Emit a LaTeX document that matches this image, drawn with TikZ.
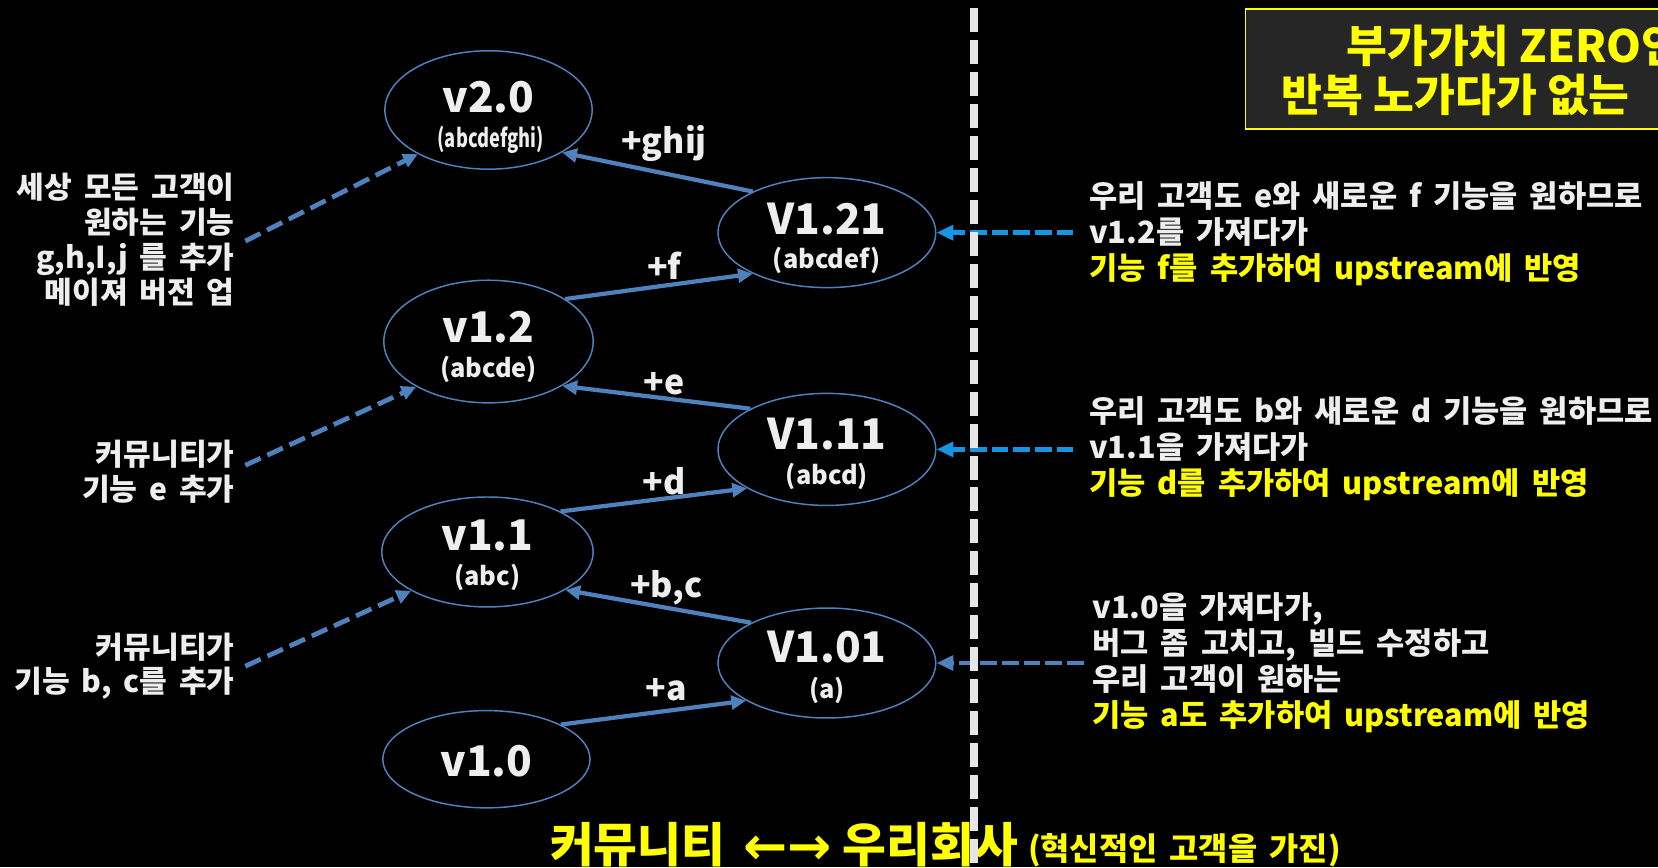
\documentclass[tikz,border=0pt]{standalone}
\usepackage{graphicx}
\usepackage{fontspec}
\setmainfont{Noto Sans CJK KR}
\newfontfamily\krw{Noto Sans CJK KR}[WordSpace=1.7]
\newfontfamily\arw{DejaVu Sans}[BoldFont={DejaVu Sans Bold}]
\usetikzlibrary{shapes.geometric,arrows.meta,calc}
\definecolor{sblue}{RGB}{79,129,189}
\definecolor{bblue}{RGB}{20,150,228}
\definecolor{ylw}{RGB}{255,255,0}
\definecolor{wht}{RGB}{238,238,238}
\definecolor{vlinec}{RGB}{230,230,230}
\definecolor{boxfill}{RGB}{38,38,38}
\begin{document}
\begin{tikzpicture}[x=1pt,y=-1pt,
  ver/.style={ellipse, draw=sblue, line width=1.4pt, inner sep=0pt},
  big/.style={font=\bfseries\fontsize{40}{44}\selectfont, text=wht, inner sep=0pt},
  sub/.style={font=\bfseries\fontsize{24}{28}\selectfont, text=wht, inner sep=0pt},
  plus/.style={font=\bfseries\fontsize{32}{36}\selectfont, text=wht, inner sep=0pt},
  flow/.style={draw=sblue, line width=4pt, -{Triangle[length=14pt,width=13pt]}},
  ldash/.style={draw=sblue, line width=4.5pt, dash pattern=on 16pt off 7pt, -{Triangle[length=14pt,width=13pt]}},
  rdash/.style={line width=4.7pt, dash pattern=on 15.8pt off 4.7pt, -{Triangle[length=16pt,width=14pt]}},
  note/.style={font=\krw\bfseries\fontsize{28.5}{33}\selectfont, text=wht, align=right, inner sep=0pt},
  rnote/.style={font=\krw\bfseries\fontsize{29}{34}\selectfont, text=wht, align=left, inner sep=0pt},
  ttl/.style={font=\bfseries\fontsize{42}{46}\selectfont, text=ylw, inner sep=0pt, anchor=west},
  captxt/.style={font=\krw\bfseries\fontsize{45}{48}\selectfont, text=ylw, inner sep=0pt, anchor=base west},
  capsm/.style={font=\krw\bfseries\fontsize{30}{32}\selectfont, text=ylw, inner sep=0pt, anchor=base west},
  vdash/.style={draw=vlinec, line width=7.5pt, dash pattern=on 22.7pt off 7.5pt},
]
\fill[black] (0,0) rectangle (1568,820);
\useasboundingbox (0,0) rectangle (1568,820);

% version ellipses
\node[ver, minimum width=196pt, minimum height=112pt] (v20) at (462,104) {};
\node[ver, minimum width=206pt, minimum height=104pt] (V121) at (782,220) {};
\node[ver, minimum width=198pt, minimum height=116pt] (v12) at (462,323) {};
\node[ver, minimum width=206pt, minimum height=106pt] (V111) at (782,425) {};
\node[ver, minimum width=200pt, minimum height=104pt] (v11) at (461,522) {};
\node[ver, minimum width=206pt, minimum height=104pt] (V101) at (782,627) {};
\node[ver, minimum width=196pt, minimum height=92pt] (v10) at (460,718) {};

% ellipse texts
\node[big] (v20a) at (462,92) {v2.0};
\node[sub] (v20b) at (464,132) {\scalebox{0.72}[1]{(abcdefghi)}};
\node[big] (V121a) at (782,207) {V1.21};
\node[sub] (V121b) at (782,246) {(abcdef)};
\node[big] (v12a) at (462,309) {v1.2};
\node[sub] (v12b) at (462,349) {(abcde)};
\node[big] (V111a) at (782,410) {V1.11};
\node[sub] (V111b) at (782,451) {(abcd)};
\node[big] (v11a) at (461,506) {v1.1};
\node[sub] (v11b) at (461,546) {(abc)};
\node[big] (V101a) at (782,612) {V1.01};
\node[sub] (V101b) at (782,653) {(a)};
\node[big] (v10a) at (460,720) {v1.0};

% flow arrows
\draw[flow] (v10.25) -- (V101.205);
\draw[flow] (V101.152) -- (v11.334);
\draw[flow] (v11.29) -- (V111.206);
\draw[flow] (V111.152) -- (v12.329);
\draw[flow] (v12.29) -- (V121.209);
\draw[flow] (V121.151) -- (v20.330);

% plus labels
\node[plus] (pa) at (630,652) {+a};
\node[plus] (pbc) at (630,556) {+b,c};
\node[plus] (pd) at (628,455) {+d};
\node[plus] (pe) at (628,363) {+e};
\node[plus] (pf) at (628,251) {+f};
\node[plus] (pg) at (628,136) {+ghij};

% left notes
\node[note, anchor=east] (n1) at (222,227) {세상 모든 고객이\\원하는 기능\\g,h,I,j 를 추가\\메이져 버전 업};
\node[note, anchor=east] (n2) at (222,446) {커뮤니티가\\기능 e 추가};
\node[note, anchor=east] (n3) at (222,630) {커뮤니티가\\기능 b, c를 추가};
\coordinate (l1) at (232,228);
\coordinate (l2) at (232,440);
\coordinate (l3) at (232,630);
\draw[ldash] (l1) -- (v20.212);
\draw[ldash] (l2) -- (v12.212);
\draw[ldash] (l3) -- (v11.207);

% right notes
\node[rnote, anchor=west] (m1) at (1030,221) {우리 고객도 e와 새로운 f 기능을 원하므로\\v1.2를 가져다가\\{\color{ylw}기능 f를 추가하여 upstream에 반영}};
\node[rnote, anchor=west] (m2) at (1030,424) {우리 고객도 b와 새로운 d 기능을 원하므로\\v1.1을 가져다가\\{\color{ylw}기능 d를 추가하여 upstream에 반영}};
\node[rnote, anchor=west] (m3) at (1033,627) {v1.0을 가져다가,\\버그 좀 고치고, 빌드 수정하고\\우리 고객이 원하는\\{\color{ylw}기능 a도 추가하여 upstream에 반영}};
\coordinate (r1) at (1015,220);
\coordinate (r2) at (1015,425);
\coordinate (r3) at (1025,627);
\draw[rdash, draw=bblue] (r1) -- (V121.east);
\draw[rdash, draw=bblue] (r2) -- (V111.east);
\draw[rdash, draw=sblue] (r3) -- (V101.east);

% title box
\node[draw=ylw, fill=boxfill, line width=1.5pt, minimum width=460pt, minimum height=113pt, anchor=north west, inner sep=0pt] (tbox) at (1177,8) {};
\node[ttl] (t1) at (1273,43) {부가가치 ZERO인};
\node[ttl] (t2) at (1212,90) {반복 노가다가 없는};

% bottom caption
\node[captxt] (c1) at (520,816) {커뮤니티};
\node[captxt, font=\arw\bfseries\fontsize{50}{54}\selectfont] (c2) at (703,818) {←→};
\node[captxt] (c3) at (797,816) {우리회사};
\node[capsm] (c4) at (972,814) {(혁신적인 고객을 가진)};

% divider
\coordinate (vtop) at (921,8);
\coordinate (vbot) at (921,824);
\draw[vdash] (vtop) -- (vbot);
\end{tikzpicture}
\end{document}
